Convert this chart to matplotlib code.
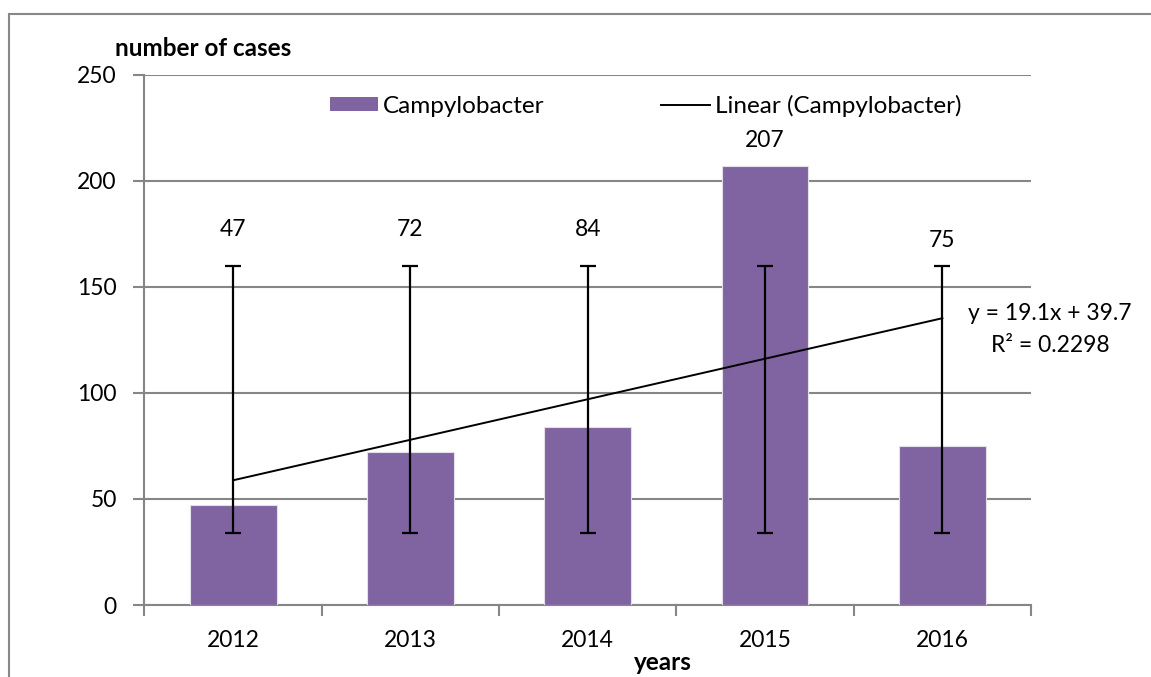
import matplotlib
matplotlib.use("Agg")
import matplotlib.pyplot as plt
import numpy as np
from matplotlib.lines import Line2D
from matplotlib.patches import Patch, Rectangle
from matplotlib.transforms import Affine2D

years = ["2012", "2013", "2014", "2015", "2016"]
cases = [47, 72, 84, 207, 75]
label_y = [177, 177, 177, 219, 172]   # where the value labels sit (data units)

plt.rcParams['font.family'] = ['Lato', 'DejaVu Sans']

W, H = 1151, 677
TXT = 17.5   # words
NUM = 16.5   # numbers
fig = plt.figure(figsize=(W / 100, H / 100), dpi=100)
ax = fig.add_axes([144.5 / W, 72 / H, 886.5 / W, 530.3 / H])
px = Affine2D().scale(1, -1).translate(0, H)   # pixel coords, origin top-left

x = np.arange(len(years))
vals = np.array(cases, dtype=float)
purple = "#8064A2"
grid_c = "#868686"

ax.bar(x, vals, width=0.49, color=purple, edgecolor="#e4e0ea", linewidth=0.8, zorder=3)

# error bars: standard deviation around the mean (Excel style)
mean = vals.mean()
sd = vals.std(ddof=1)
ax.errorbar(x, np.full(len(x), mean), yerr=sd, fmt="none", ecolor="black",
            elinewidth=1.6, capsize=6, capthick=1.6, zorder=4)

# linear trendline
slope, icpt = np.polyfit(x + 1, vals, 1)
ax.plot(x, slope * (x + 1) + icpt, color="black", lw=1.4, zorder=5)
r2 = np.corrcoef(x + 1, vals)[0, 1] ** 2
fig.text(1050, 313, "y = {:.1f}x + {:.1f}".format(slope, icpt), transform=px,
         ha="center", va="center", fontsize=NUM)
fig.text(1050, 345, "R² = {:.4f}".format(r2), transform=px,
         ha="center", va="center", fontsize=NUM)

for xi, v, ly in zip(x, cases, label_y):
    ax.text(xi, ly, str(v), ha="center", va="center", fontsize=NUM, zorder=6)

ax.set_xlim(-0.5, len(years) - 0.5)
ax.set_ylim(0, 250)
ax.set_yticks(np.arange(0, 251, 50))
ax.yaxis.grid(True, color=grid_c, lw=1.5, zorder=0)
ax.set_axisbelow(True)
for s in ["top", "right"]:
    ax.spines[s].set_visible(False)
for s in ["left", "bottom"]:
    ax.spines[s].set_color(grid_c)
    ax.spines[s].set_linewidth(1.5)

ax.set_xticks(x)
ax.set_xticklabels(years)
ax.set_xticks(np.arange(-0.5, len(years)), minor=True)
ax.tick_params(axis="x", which="major", length=0, pad=18, labelsize=NUM)
ax.tick_params(axis="x", which="minor", length=8, width=1.5, color=grid_c)
ax.tick_params(axis="y", length=8, width=1.5, color=grid_c, pad=12, labelsize=NUM)

fig.text(203, 48, "number of cases", transform=px, ha="center", va="center",
         fontsize=TXT, fontweight="bold")
fig.text(663, 663, "years", transform=px, ha="center", va="center",
         fontsize=TXT, fontweight="bold")

handles = [Patch(facecolor=purple, edgecolor="none"),
           Line2D([0], [0], color="black", lw=1.4)]
ax.legend(handles, ["Campylobacter", "Linear (Campylobacter)"], ncol=2,
          frameon=False, loc="center", bbox_to_anchor=(0.565, 0.941),
          fontsize=TXT, handlelength=2.0, handleheight=0.5, handletextpad=0.2,
          columnspacing=4.8, borderpad=0, borderaxespad=0)

# outer chart border (open to the right and bottom)
fig.patches.append(Rectangle((8.5 / W, -0.1), 2, (H - 14) / H + 0.1,
                             transform=fig.transFigure, fill=False,
                             edgecolor="#888888", lw=1.5))

fig.savefig("out.png", dpi=100)
